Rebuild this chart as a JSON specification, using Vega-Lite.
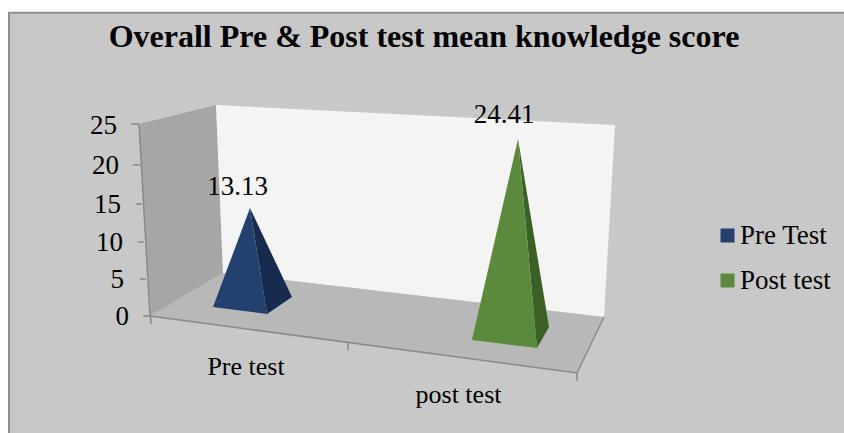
{
"$schema":"https://vega.github.io/schema/vega-lite/v6.json",
"width":844,"height":433,"padding":0,"autosize":"none","background":"white",
"title":{"text":"Overall Pre & Post test mean knowledge score","font":"Liberation Serif","fontSize":32,"fontWeight":"bold","color":"#000000","anchor":"middle","frame":"group","baseline":"alphabetic","offset":0,"dy":79,"dx":2},
"config":{"view":{"stroke":null},"font":"Liberation Serif"},
"datasets":{
"faces":[
{"face":"Left wall","v":1,"px":139,"score":25},{"face":"Left wall","v":2,"px":216,"score":27.47},{"face":"Left wall","v":3,"px":223,"score":5.6},{"face":"Left wall","v":4,"px":150,"score":0},
{"face":"Back wall","v":1,"px":216,"score":27.47},{"face":"Back wall","v":2,"px":615,"score":24.87},{"face":"Back wall","v":3,"px":604,"score":-0.13},{"face":"Back wall","v":4,"px":223,"score":5.6},
{"face":"Floor","v":1,"px":150,"score":0},{"face":"Floor","v":2,"px":223,"score":5.6},{"face":"Floor","v":3,"px":604,"score":-0.13},{"face":"Floor","v":4,"px":577,"score":-7.42},
{"face":"Pre Test side","v":1,"px":250,"score":14.06},{"face":"Pre Test side","v":2,"px":267,"score":0.26},{"face":"Pre Test side","v":3,"px":292,"score":2.47},
{"face":"Pre Test","v":1,"px":213,"score":1.17},{"face":"Pre Test","v":2,"px":250,"score":14.06},{"face":"Pre Test","v":3,"px":267,"score":0.26},
{"face":"Post test side","v":1,"px":518,"score":23.05},{"face":"Post test side","v":2,"px":537,"score":-4.17},{"face":"Post test side","v":3,"px":549,"score":-1.43},
{"face":"Post test","v":1,"px":472,"score":-3.125},{"face":"Post test","v":2,"px":518,"score":23.05},{"face":"Post test","v":3,"px":537,"score":-4.17}
],
"axisLines":[
{"seg":"y axis","v":1,"px":139,"score":25},{"seg":"y axis","v":2,"px":150,"score":0},
{"seg":"x axis","v":1,"px":150,"score":0},{"seg":"x axis","v":2,"px":577,"score":-7.42},{"seg":"x axis","v":3,"px":604,"score":-0.13},
{"seg":"t25","v":1,"px":131,"score":25},{"seg":"t25","v":2,"px":139,"score":25},
{"seg":"t20","v":1,"px":133,"score":19.66},{"seg":"t20","v":2,"px":140,"score":19.66},
{"seg":"t15","v":1,"px":136,"score":14.58},{"seg":"t15","v":2,"px":142,"score":14.58},
{"seg":"t10","v":1,"px":138,"score":9.64},{"seg":"t10","v":2,"px":144,"score":9.64},
{"seg":"t5","v":1,"px":140,"score":4.82},{"seg":"t5","v":2,"px":146,"score":4.82},
{"seg":"t0","v":1,"px":143,"score":0},{"seg":"t0","v":2,"px":150,"score":0},
{"seg":"x0","v":1,"px":150.5,"score":0},{"seg":"x0","v":2,"px":151,"score":-1},
{"seg":"x1","v":1,"px":348,"score":-3.4},{"seg":"x1","v":2,"px":348,"score":-4.45},
{"seg":"x2","v":1,"px":577,"score":-7.42},{"seg":"x2","v":2,"px":577,"score":-8.45}
]
},
"layer":[
{"data":{"values":[{"px":9,"px2":870,"score":39.5,"score2":-25}]},
 "mark":{"type":"rect","fill":"#c8c8c8","stroke":"#8f8f8f","strokeWidth":2,"clip":true},
 "encoding":{"x":{"field":"px","type":"quantitative","scale":{"domain":[0,844],"nice":false,"zero":false},"axis":null},"x2":{"field":"px2"},
 "y":{"field":"score2","type":"quantitative","scale":{"domain":[-15.234,41.146],"nice":false,"zero":false},"axis":null},"y2":{"field":"score"}}},
{"data":{"name":"faces"},
 "mark":{"type":"line","strokeWidth":0,"interpolate":"linear-closed"},
 "encoding":{"x":{"field":"px","type":"quantitative","axis":null},"y":{"field":"score","type":"quantitative","axis":null},"order":{"field":"v"},
 "fill":{"field":"face","type":"nominal","sort":null,
  "scale":{"domain":["Pre Test","Post test","Pre Test side","Post test side","Left wall","Back wall","Floor"],"range":["#23406f","#5b8a3c","#172b4e","#3a6023","#a6a6a6","#f4f4f4","#b8b8b8"]},
  "legend":{"values":["Pre Test","Post test"],"title":null,"orient":"none","legendX":714,"legendY":222,"symbolType":"square","symbolSize":196,"symbolStrokeWidth":0,"labelFont":"Liberation Serif","labelFontSize":27,"labelColor":"#000000","labelOffset":-1,"rowPadding":17,"labelLimit":200}}}},
{"data":{"name":"axisLines"},
 "mark":{"type":"line","stroke":"#8a8a8a","strokeWidth":1.5},
 "encoding":{"x":{"field":"px","type":"quantitative"},"y":{"field":"score","type":"quantitative"},"order":{"field":"v"},"detail":{"field":"seg"}}},
{"data":{"values":[{"tick":25,"px":117,"score":24.8},{"tick":20,"px":119,"score":19.5},{"tick":15,"px":121,"score":14.4},{"tick":10,"px":123,"score":9.5},{"tick":5,"px":124,"score":4.7},{"tick":0,"px":129,"score":-0.1}]},
 "mark":{"type":"text","align":"right","baseline":"middle","font":"Liberation Serif","fontSize":27,"color":"#000000"},
 "encoding":{"x":{"field":"px","type":"quantitative"},"y":{"field":"score","type":"quantitative"},"text":{"field":"tick","type":"quantitative"}}},
{"data":{"values":[{"series":"Pre test","value":13.13,"px":237.5,"score":15.76},{"series":"post test","value":24.41,"px":504,"score":25.13}]},
 "mark":{"type":"text","align":"center","baseline":"alphabetic","font":"Liberation Serif","fontSize":27,"color":"#000000"},
 "encoding":{"x":{"field":"px","type":"quantitative"},"y":{"field":"score","type":"quantitative"},"text":{"field":"value","type":"quantitative","format":".2f"}}},
{"data":{"values":[{"category":"Pre test","px":246,"score":-7.68},{"category":"post test","px":458.5,"score":-11.33}]},
 "mark":{"type":"text","align":"center","baseline":"alphabetic","font":"Liberation Serif","fontSize":26,"color":"#000000"},
 "encoding":{"x":{"field":"px","type":"quantitative"},"y":{"field":"score","type":"quantitative"},"text":{"field":"category"}}}
]
}
